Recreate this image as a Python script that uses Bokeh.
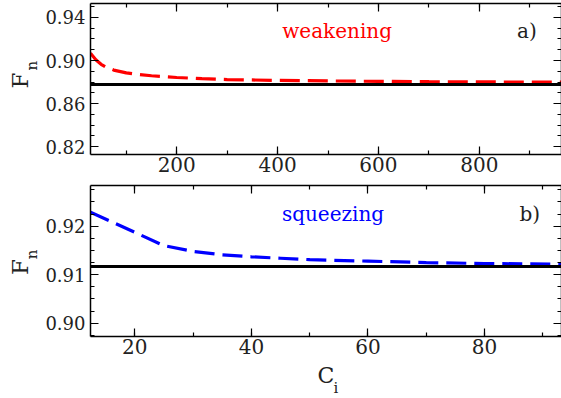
from bokeh.plotting import figure
from bokeh.layouts import gridplot
from bokeh.models import (Range1d, SingleIntervalTicker, FixedTicker, LinearAxis,
                          Label, Span, PrintfTickFormatter)
from bokeh.embed import file_html
from bokeh.resources import INLINE

# ---- data ----
ci_a = [29, 40, 50, 60, 75, 100, 125, 150, 200, 250, 300, 400, 500, 600,
        700, 800, 900, 963]
fn_weakening = [0.9068, 0.9005, 0.8965, 0.8938, 0.8911, 0.8885, 0.8870,
                0.8858, 0.8842, 0.8831, 0.8823, 0.8815, 0.8810, 0.8806,
                0.8803, 0.8801, 0.8799, 0.8798]
limit_a = 0.8777

ci_b = [12.4, 25, 30, 35, 40, 45, 50, 60, 70, 80, 93.2]
fn_squeezing = [0.9229, 0.9160, 0.9148, 0.9141, 0.9137, 0.9134, 0.9131,
                0.9128, 0.9125, 0.9123, 0.9122]
limit_b = 0.9117

yticks_a = [0.82, 0.86, 0.90, 0.94]
yminor_a = [0.81, 0.82, 0.83, 0.84, 0.85, 0.86, 0.87, 0.88, 0.89, 0.90,
            0.91, 0.92, 0.93, 0.94, 0.95]

FONT = "DejaVu Serif"
TXT = "#222222"


def make_axes(p, xtick, ytick):
    for ax in (p.xaxis[0], p.yaxis[0]):
        ax.major_tick_in = 8
        ax.major_tick_out = 0
        ax.minor_tick_in = 4
        ax.minor_tick_out = 0
        ax.axis_line_width = 1.5
        ax.major_tick_line_width = 1.2
        ax.minor_tick_line_width = 1.2
        ax.major_label_text_font = FONT
        ax.major_label_text_color = TXT
    p.xaxis[0].major_label_text_font_size = "20px"
    p.yaxis[0].major_label_text_font_size = "18px"
    p.xaxis[0].ticker = xtick
    p.yaxis[0].ticker = ytick
    p.yaxis[0].formatter = PrintfTickFormatter(format="%.2f")
    p.xaxis[0].major_label_standoff = 2
    p.yaxis[0].major_label_standoff = 5
    for loc, tk in (("above", xtick), ("right", ytick)):
        ax = LinearAxis(ticker=tk, major_label_text_font_size="1px",
                        major_label_text_color=None,
                        major_label_standoff=0, major_tick_in=8,
                        major_tick_out=0, minor_tick_in=4, minor_tick_out=0,
                        axis_line_width=1.5, major_tick_line_width=1.2,
                        minor_tick_line_width=1.2)
        p.add_layout(ax, loc)


def blank(w, h, x_range, y_range):
    f = figure(width=w, height=h, output_backend="svg", toolbar_location=None,
               x_range=x_range, y_range=y_range, min_border=0,
               x_axis_location=None, y_axis_location=None)
    f.grid.visible = False
    f.outline_line_color = None
    return f


def note(p, x, y, text, color, align="center", size="20px", angle=0.0):
    p.add_layout(Label(x=x, y=y, text=text, text_align=align, angle=angle,
                       text_baseline="middle", text_color=color,
                       text_font=FONT, text_font_size=size))


# ---- panel a ----
p1 = figure(width=519, height=180, output_backend="svg", toolbar_location=None,
            x_range=Range1d(29, 963), y_range=Range1d(0.8126, 0.953),
            min_border_left=46, min_border_right=0, min_border_top=3,
            min_border_bottom=26)
p1.grid.visible = False
p1.outline_line_color = None
make_axes(p1, SingleIntervalTicker(interval=200, num_minor_ticks=2),
          FixedTicker(ticks=yticks_a, minor_ticks=yminor_a))
p1.add_layout(Span(location=limit_a, dimension="width", line_color="black",
                   line_width=3))
p1.line(ci_a, fn_weakening, line_color="red", line_width=3.2, line_dash="20 8")
note(p1, 518, 0.9278, "weakening", "red")
note(p1, 875, 0.9278, "a)", TXT, align="left")

# ---- panel b ----
p2 = figure(width=519, height=182, output_backend="svg", toolbar_location=None,
            x_range=Range1d(12.4, 93.2), y_range=Range1d(0.89726, 0.9284),
            min_border_left=46, min_border_right=0, min_border_top=5,
            min_border_bottom=26)
p2.grid.visible = False
p2.outline_line_color = None
make_axes(p2, SingleIntervalTicker(interval=20, num_minor_ticks=2),
          SingleIntervalTicker(interval=0.01, num_minor_ticks=4))
p2.add_layout(Span(location=limit_b, dimension="width", line_color="black",
                   line_width=3))
p2.line(ci_b, fn_squeezing, line_color="blue", line_width=3.2, line_dash="20 8")
note(p2, 54, 0.9226, "squeezing", "blue")
note(p2, 86, 0.9226, "b)", TXT, align="left")

# ---- axis titles, drawn in helper figures aligned with the panels ----
left1 = blank(42, 180, Range1d(0, 42), p1.y_range)
note(left1, 19, 0.8814, "F", TXT, size="23px", angle=1.5708)
note(left1, 31.8, 0.8953, "n", TXT, size="15px", angle=1.5708)
left2 = blank(42, 182, Range1d(0, 42), p2.y_range)
note(left2, 19, 0.9116, "F", TXT, size="23px", angle=1.5708)
note(left2, 31.8, 0.91417, "n", TXT, size="15px", angle=1.5708)

strip = blank(519, 36, p2.x_range, Range1d(0, 36))
note(strip, 52.8, 22.8, "C", TXT, size="22px")
note(strip, 54.5, 10.5, "i", TXT, size="15px")

layout = gridplot([[left1, p1], [left2, p2], [None, strip]],
                  toolbar_location=None)
open("out.html", "w").write(file_html(layout, INLINE))
